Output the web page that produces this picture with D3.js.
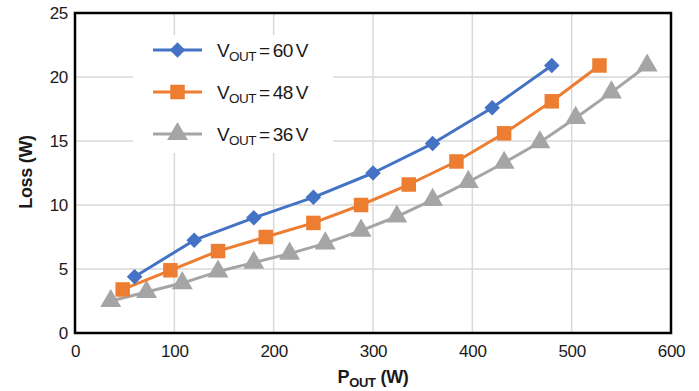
<!DOCTYPE html>
<html><head><meta charset="utf-8">
<script src="https://cdn.jsdelivr.net/npm/d3@7"></script>
<style>
html,body{margin:0;padding:0;background:#fff;}
svg text{font-family:"Liberation Sans",Arial,sans-serif;fill:#1a1a1a;}
</style></head>
<body><svg id="c" width="699" height="391"></svg>
<script>
const xTicks=[0,100,200,300,400,500,600];
const yTicks=[0,5,10,15,20,25];
const x60=[60,120,180,240,300,360,420,480];
const y60=[4.4,7.25,9.0,10.6,12.5,14.8,17.6,20.9];
const x48=[48,96,144,192,240,288,336,384,432,480,528];
const y48=[3.4,4.9,6.4,7.5,8.6,10.0,11.6,13.4,15.6,18.1,20.9];
const x36=[36,72,108,144,180,216,252,288,324,360,396,432,468,504,540,576];
const y36=[2.5,3.2,3.9,4.8,5.5,6.2,7.0,8.0,9.1,10.4,11.8,13.3,14.9,16.8,18.8,20.9];
const seriesNames=["60","48","36"];

const svg=d3.select("#c");
const L=75,R=671,T=13,B=333;
const x=d3.scaleLinear().domain([0,600]).range([L,R]);
const y=d3.scaleLinear().domain([0,25]).range([B,T]);

// grid
const g=svg.append("g");
g.selectAll(".gx").data(xTicks.slice(1,-1)).join("line")
 .attr("x1",d=>x(d)).attr("x2",d=>x(d)).attr("y1",T).attr("y2",B)
 .attr("stroke","#d9d9d9").attr("stroke-width",1.5);
g.selectAll(".gy").data(yTicks.slice(1,-1)).join("line")
 .attr("y1",d=>y(d)).attr("y2",d=>y(d)).attr("x1",L).attr("x2",R)
 .attr("stroke","#d9d9d9").attr("stroke-width",1.5);

// axes with d3
const xa=svg.append("g").attr("transform",`translate(0,${B})`)
 .call(d3.axisBottom(x).tickValues(xTicks).tickSize(0).tickPadding(12));
const ya=svg.append("g").attr("transform",`translate(${L},0)`)
 .call(d3.axisLeft(y).tickValues(yTicks).tickSize(0).tickPadding(7));
[xa,ya].forEach(a=>{a.select(".domain").remove();
 a.selectAll("text").attr("font-size",17).attr("font-family","Liberation Sans, Arial, sans-serif").attr("fill","#1a1a1a").attr("letter-spacing",-0.3);});

// border
svg.append("rect").attr("x",L).attr("y",T).attr("width",R-L).attr("height",B-T)
 .attr("fill","none").attr("stroke","#000").attr("stroke-width",2.5);

// legend bg
svg.append("rect").attr("x",133).attr("y",35).attr("width",200).attr("height",118).attr("fill","#fff");

const colors=["#4472C4","#ED7D31","#A5A5A5"];
const data=[d3.zip(x60,y60),d3.zip(x48,y48),d3.zip(x36,y36)];
const line=d3.line().x(d=>x(d[0])).y(d=>y(d[1]));
const sym=[d3.symbolSquare,d3.symbolSquare,d3.symbolTriangle];
const symSize=[121,210,190];
const rot=[45,0,0];

function marker(sel,i,cx,cy){
  const p=d3.symbol().type(sym[i]).size(symSize[i]);
  sel.append("path").attr("d",p()).attr("transform",`translate(${cx},${cy}) rotate(${rot[i]})`).attr("fill",colors[i]);
}

// plot series (36 first so 60 on top)
[2,1,0].forEach(i=>{
  svg.append("path").datum(data[i]).attr("d",line).attr("fill","none")
    .attr("stroke",colors[i]).attr("stroke-width",3).attr("stroke-linejoin","round");
  const mg=svg.append("g");
  data[i].forEach(d=>marker(mg,i,x(d[0]),y(d[1])));
});

// legend
const ly=[50,92,134];
seriesNames.forEach((n,i)=>{
  svg.append("line").attr("x1",153).attr("x2",202).attr("y1",ly[i]).attr("y2",ly[i])
    .attr("stroke",colors[i]).attr("stroke-width",3);
  marker(svg,i,177.5,ly[i]);
  const t=svg.append("text").attr("x",217).attr("y",ly[i]+7).attr("font-size",19).attr("letter-spacing",-0.6);
  t.append("tspan").text("V");
  t.append("tspan").attr("font-size",13.5).attr("dy",4).text("OUT");
  t.append("tspan").attr("dy",-4).text("\u2009=\u200960\u2009V".replace("60",n));
});

// axis titles
svg.append("text").attr("transform","translate(32,172) rotate(-90)").attr("text-anchor","middle")
 .attr("font-size",18).attr("font-weight","bold").attr("letter-spacing",-0.3).text("Loss (W)");
const xt=svg.append("text").attr("x",373).attr("y",383).attr("text-anchor","middle")
 .attr("font-size",18).attr("font-weight","bold").attr("letter-spacing",-0.3);
xt.append("tspan").text("P");
xt.append("tspan").attr("font-size",13).attr("dy",3.5).text("OUT");
xt.append("tspan").attr("dy",-3.5).text(" (W)");
</script></body></html>
